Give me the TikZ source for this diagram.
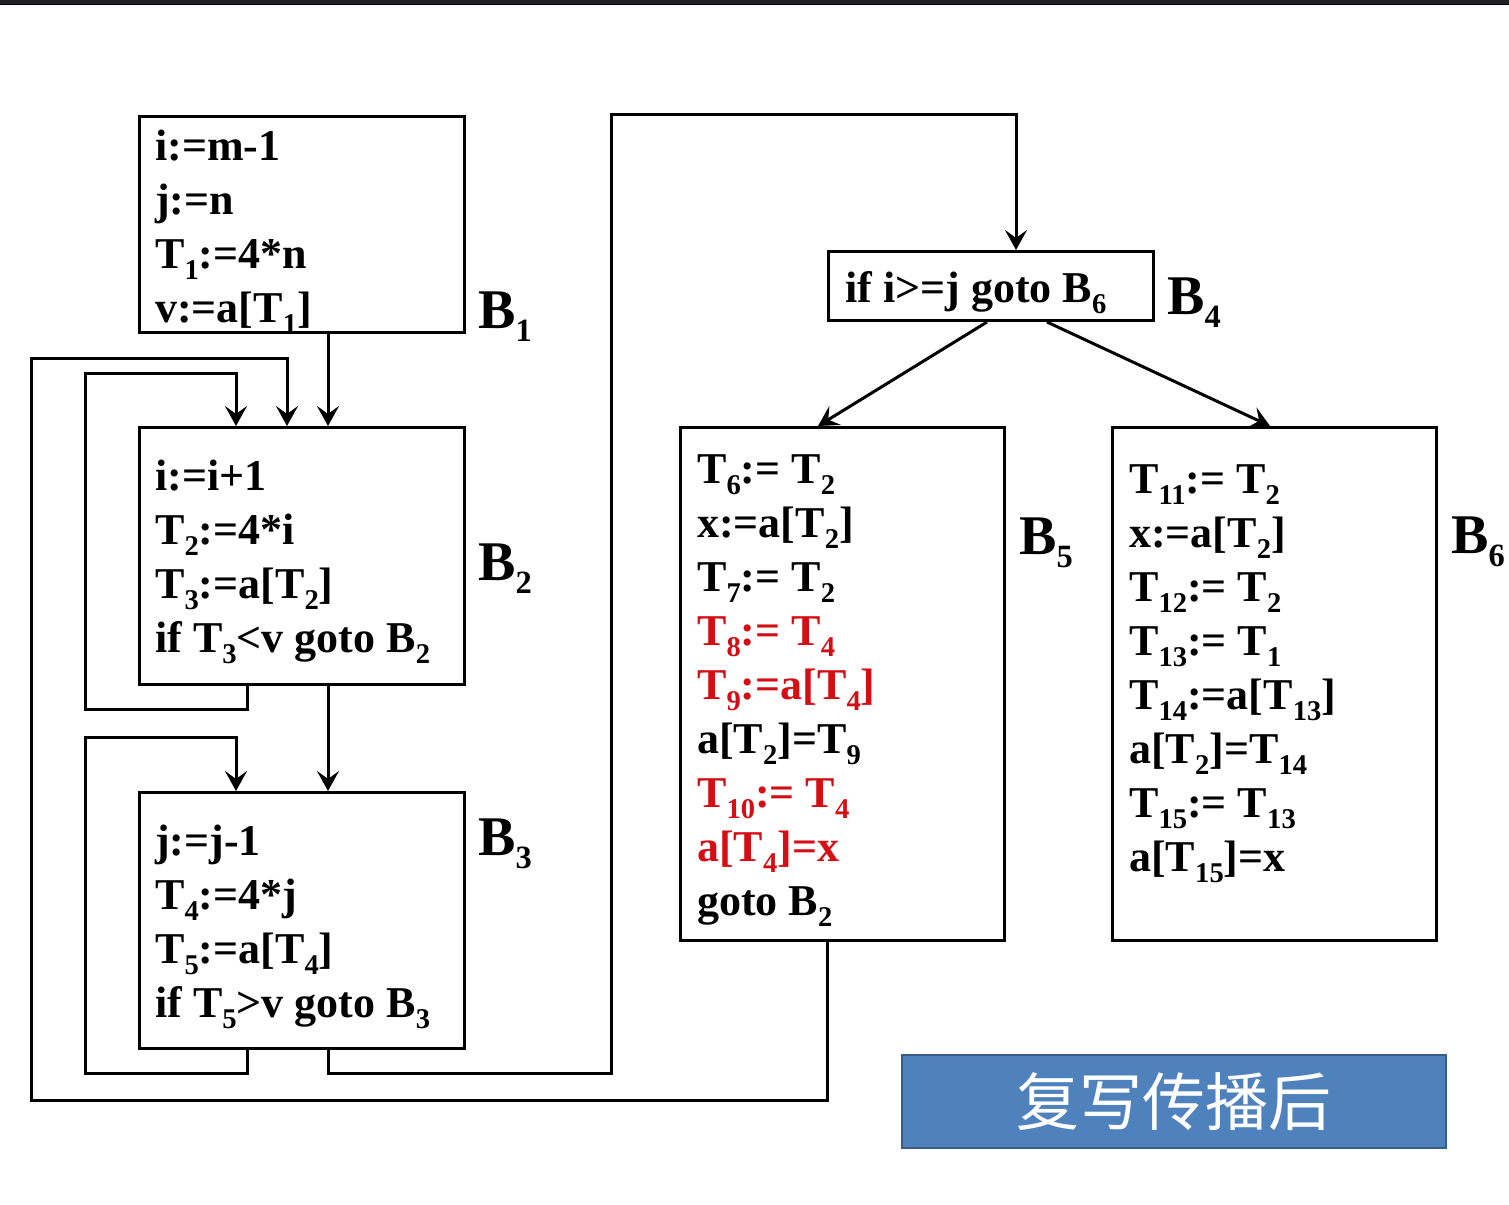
\documentclass[tikz,border=0pt]{standalone}
\usepackage{fontspec}
\setmainfont{Liberation Serif}
\newfontfamily\cjk{Noto Sans CJK SC}
\usepackage{graphicx}
\usetikzlibrary{arrows.meta}
\definecolor{myred}{RGB}{212,14,20}
\definecolor{bannerfill}{RGB}{79,129,189}
\definecolor{bannerline}{RGB}{56,93,138}
\definecolor{topbar}{RGB}{32,33,36}
\newcommand\sbs[1]{\raisebox{-0.26em}{\scalebox{0.65}{#1}}}
\newcommand\lsb[1]{\raisebox{-0.24em}{\scalebox{0.58}{#1}}}
\tikzset{
  blk/.style={draw=black, line width=3pt, anchor=north west, inner sep=0pt, minimum width=#1},
  txt/.style={anchor=base west, inner sep=0pt, font=\bfseries\fontsize{44}{54}\selectfont},
  lbl/.style={anchor=base west, inner sep=0pt, font=\bfseries\fontsize{56}{60}\selectfont},
  arr/.style={line width=3pt, -{Stealth[length=20pt,width=22pt,inset=8pt]}},
}
\begin{document}
\begin{tikzpicture}[x=1pt,y=-1pt]
\useasboundingbox (0,0) rectangle (1509,1204);
\fill[white] (0,0) rectangle (1509,1204);
\fill[topbar] (0,0) rectangle (1509,4);
\fill[black] (0,4) rectangle (1509,5.5);

% boxes
\node[blk=325pt, minimum height=216pt] (b1) at (138,115) {};
\node[blk=325pt, minimum height=257pt] (b2) at (138,426) {};
\node[blk=325pt, minimum height=256pt] (b3) at (138,791) {};
\node[blk=325pt, minimum height=69pt] (b4) at (827,250) {};
\node[blk=324pt, minimum height=513pt] (b5) at (679,426) {};
\node[blk=324pt, minimum height=513pt] (b6) at (1111,426) {};

% B1 text
\node[txt] (t11) at (155,160) {i:=m-1};
\node[txt] (t12) at (155,214) {j:=n};
\node[txt] (t13) at (155,268) {T\sbs{1}:=4*n};
\node[txt] (t14) at (155,322) {v:=a[T\sbs{1}]};
% B2 text
\node[txt] (t21) at (155,490) {i:=i+1};
\node[txt] (t22) at (155,544) {T\sbs{2}:=4*i};
\node[txt] (t23) at (155,598) {T\sbs{3}:=a[T\sbs{2}]};
\node[txt] (t24) at (155,652) {if T\sbs{3}<v goto B\sbs{2}};
% B3 text
\node[txt] (t31) at (155,855) {j:=j-1};
\node[txt] (t32) at (155,909) {T\sbs{4}:=4*j};
\node[txt] (t33) at (155,963) {T\sbs{5}:=a[T\sbs{4}]};
\node[txt] (t34) at (155,1017) {if T\sbs{5}>v goto B\sbs{3}};
% B4 text
\node[txt] (t41) at (845,302) {if i>=j goto B\sbs{6}};
% B5 text
\node[txt] (t51) at (697,483) {T\sbs{6}:= T\sbs{2}};
\node[txt] (t52) at (697,537) {x:=a[T\sbs{2}]};
\node[txt] (t53) at (697,591) {T\sbs{7}:= T\sbs{2}};
\node[txt, text=myred] (t54) at (697,645) {T\sbs{8}:= T\sbs{4}};
\node[txt, text=myred] (t55) at (697,699) {T\sbs{9}:=a[T\sbs{4}]};
\node[txt] (t56) at (697,753) {a[T\sbs{2}]=T\sbs{9}};
\node[txt, text=myred] (t57) at (697,807) {T\sbs{10}:= T\sbs{4}};
\node[txt, text=myred] (t58) at (697,861) {a[T\sbs{4}]=x};
\node[txt] (t59) at (697,915) {goto B\sbs{2}};
% B6 text
\node[txt] (t61) at (1129,493) {T\sbs{11}:= T\sbs{2}};
\node[txt] (t62) at (1129,547) {x:=a[T\sbs{2}]};
\node[txt] (t63) at (1129,601) {T\sbs{12}:= T\sbs{2}};
\node[txt] (t64) at (1129,655) {T\sbs{13}:= T\sbs{1}};
\node[txt] (t65) at (1129,709) {T\sbs{14}:=a[T\sbs{13}]};
\node[txt] (t66) at (1129,763) {a[T\sbs{2}]=T\sbs{14}};
\node[txt] (t67) at (1129,817) {T\sbs{15}:= T\sbs{13}};
\node[txt] (t68) at (1129,871) {a[T\sbs{15}]=x};

% labels
\node[lbl] (l1) at (478,328) {B\lsb{1}};
\node[lbl] (l2) at (478,580) {B\lsb{2}};
\node[lbl] (l3) at (478,855) {B\lsb{3}};
\node[lbl] (l4) at (1167,314) {B\lsb{4}};
\node[lbl] (l5) at (1019,554) {B\lsb{5}};
\node[lbl] (l6) at (1451,553) {B\lsb{6}};

% columns
\coordinate (cA) at (328,0);
\coordinate (cL) at (247,0);
\coordinate (cI) at (236,0);
\coordinate (cR) at (287,0);
\coordinate (cB5) at (827,0);
\coordinate (cB4) at (1016,0);
\coordinate (c4l) at (987,0);
\coordinate (c5t) at (818,0);
\coordinate (c4r) at (1047,0);
\coordinate (c6t) at (1270,0);

% connectors
\draw[arr] (b1.south -| cA) -- (b2.north -| cA);
\draw[arr] (b2.south -| cA) -- (b3.north -| cA);
\draw[arr] (b2.south -| cL) -- (247,709) -- (85,709) -- (85,373) -- (236,373) -- (b2.north -| cI);
\draw[arr] (b3.south -| cL) -- (247,1073) -- (85,1073) -- (85,737) -- (236,737) -- (b3.north -| cI);
\draw[arr] (b3.south -| cA) -- (328,1073) -- (611,1073) -- (611,115) -- (1016,115) -- (b4.north -| cB4);
\draw[arr] (b5.south -| cB5) -- (827,1100) -- (31,1100) -- (31,358) -- (287,358) -- (b2.north -| cR);
\draw[arr] (b4.south -| c4l) -- (b5.north -| c5t);
\draw[arr] (b4.south -| c4r) -- (b6.north -| c6t);

% banner
\node[draw=bannerline, fill=bannerfill, line width=2pt, anchor=north west, minimum width=544pt, minimum height=93pt, inner sep=0pt] (ban) at (901,1054) {};
\node[text=white, font=\cjk\fontsize{63}{70}\selectfont, inner sep=0pt] (bantxt) at (ban.center) {复写传播后};
\end{tikzpicture}
\end{document}
